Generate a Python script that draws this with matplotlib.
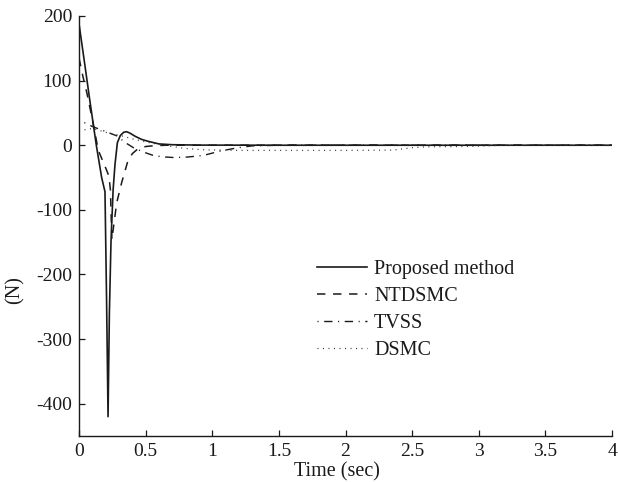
import matplotlib
matplotlib.use("Agg")
import matplotlib.pyplot as plt

plt.rcParams['font.family'] = ['Liberation Serif', 'DejaVu Serif']

# Proposed method (solid)
t_prop = [0, 0.04, 0.08, 0.13, 0.17, 0.195, 0.207, 0.218, 0.228, 0.24, 0.256,
          0.27, 0.288, 0.31, 0.335, 0.356, 0.38, 0.42, 0.47, 0.52, 0.6, 0.7,
          0.9, 1.5, 4.0]
v_prop = [188, 130, 71, 0, -50, -72, -240, -420, -260, -150, -69,
          -30, 4, 15, 20, 21, 19, 14, 9, 6, 2, 0.8,
          0.2, 0, 0]

# NTDSMC (dashed)
t_ntd = [0, 0.03, 0.06, 0.1, 0.145, 0.2, 0.225, 0.236, 0.242, 0.247, 0.26,
         0.283, 0.32, 0.363, 0.40, 0.44, 0.5, 0.55, 0.65, 1.0, 4.0]
v_ntd = [135, 106, 80, 40, -8, -35, -48, -70, -115, -146, -125,
         -89, -58, -27, -13, -6, -2, -1, 0, 0, 0]

# TVSS (dash-dot)
t_tvss = [0.04, 0.1, 0.19, 0.29, 0.34, 0.41, 0.49, 0.56, 0.63, 0.71, 0.8,
          0.93, 1.06, 1.19, 1.3, 1.5, 2.0, 4.0]
v_tvss = [35, 29, 22, 14, 5, -4, -11, -16, -18, -19, -18.5,
          -16, -9, -4, -1, 0, 0, 0]

# DSMC (dotted)
t_dsmc = [0.0, 0.045, 0.1, 0.2, 0.31, 0.4, 0.48, 0.58, 0.68, 0.8, 0.93,
          1.2, 1.6, 2.0, 2.36, 2.49, 2.6, 2.9, 3.2, 4.0]
v_dsmc = [24, 24, 26, 20, 15, 10, 6, 2, -1.5, -5, -7,
          -8, -8, -8, -7.5, -4, -2.5, -2, 0, 0]

labels = ['Proposed method', 'NTDSMC', 'TVSS', 'DSMC']
x_ticks = [0, 0.5, 1, 1.5, 2, 2.5, 3, 3.5, 4]
x_tick_labels = ['0', '0.5', '1', '1.5', '2', '2.5', '3', '3.5', '4']
y_ticks = [-400, -300, -200, -100, 0, 100, 200]
y_tick_labels = ['-400', '-300', '-200', '-100', '0', '100', '200']

fig = plt.figure(figsize=(6.18, 4.82), dpi=100)
ax = fig.add_axes([79 / 618, 46 / 482, 533 / 618, 420 / 482])

ax.plot(t_prop, v_prop, color='#1a1a1a', lw=1.2, label=labels[0])
ax.plot(t_ntd, v_ntd, color='#1a1a1a', lw=1.1, dashes=(5.5, 5), label=labels[1])
ax.plot(t_tvss, v_tvss, color='#1a1a1a', lw=1.0, dashes=(0.8, 4, 6, 4), label=labels[2])
ax.plot(t_dsmc, v_dsmc, color='#333333', lw=0.9, dashes=(0.8, 3.6), label=labels[3])

ax.set_xlim(0, 4)
ax.set_ylim(-450, 200)
ax.set_xticks(x_ticks)
ax.set_xticklabels(x_tick_labels)
ax.set_yticks(y_ticks)
ax.set_yticklabels(y_tick_labels)
ax.tick_params(direction='in', length=4, width=0.9, labelsize=14, colors='#1a1a1a', pad=5)
for s in ['top', 'right']:
    ax.spines[s].set_visible(False)
for s in ['left', 'bottom']:
    ax.spines[s].set_linewidth(1.0)
    ax.spines[s].set_color('#1a1a1a')

ax.set_xlabel('Time (sec)', fontsize=14.5, color='#1a1a1a', va='center', ha='center')
ax.xaxis.set_label_coords(0.484, -0.085)
ax.set_ylabel('(N)', fontsize=14.5, color='#1a1a1a', va='center', ha='center')
ax.yaxis.set_label_coords(-0.12, 0.348)

leg = ax.legend(loc='center left', bbox_to_anchor=(0.446, 0.30), frameon=False,
                fontsize=14.5, handlelength=2.5, handletextpad=0.35,
                labelspacing=0.4, borderpad=0, borderaxespad=0)
for txt in leg.get_texts():
    txt.set_color('#1a1a1a')

fig.savefig('out.png', dpi=100)
